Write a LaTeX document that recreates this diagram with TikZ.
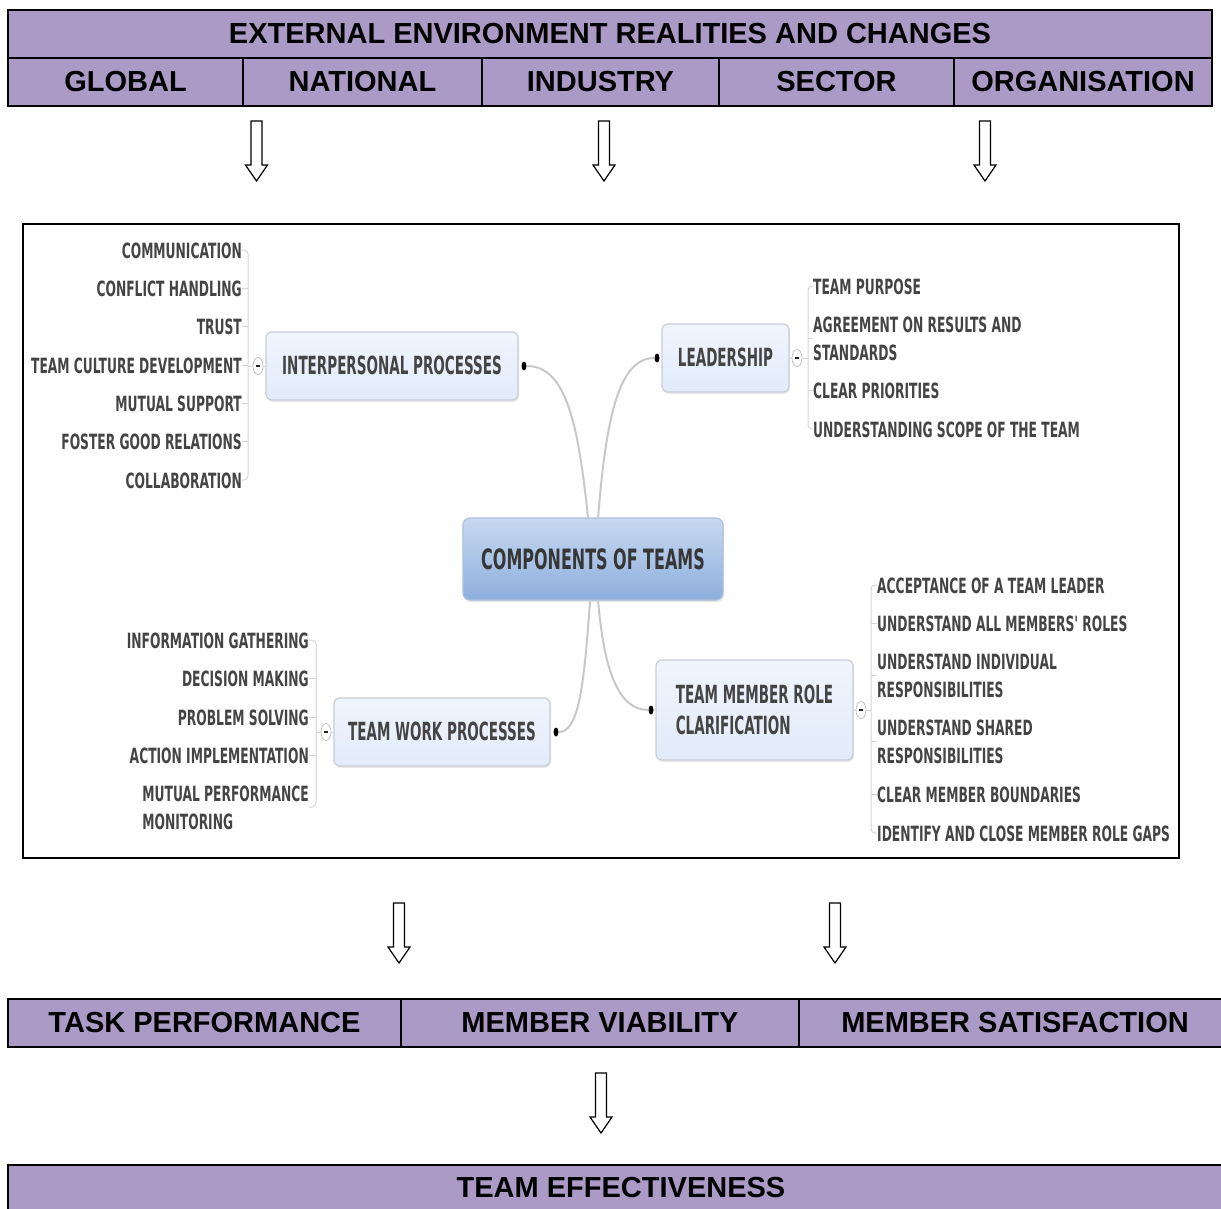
\documentclass[tikz,border=0pt]{standalone}
\usepackage{fontspec}
\setmainfont{Liberation Sans}
\newfontfamily\mmfont{DejaVu Sans}
\usetikzlibrary{shadows,shapes.geometric}

\definecolor{lav}{RGB}{171,153,198}
\definecolor{mmtext}{RGB}{68,68,68}
\definecolor{boxtop}{RGB}{240,245,253}
\definecolor{boxbot}{RGB}{226,235,250}
\definecolor{boxline}{RGB}{200,205,214}
\definecolor{ctop}{RGB}{200,217,240}
\definecolor{cbot}{RGB}{141,174,220}
\definecolor{cline}{RGB}{170,192,224}
\definecolor{connc}{RGB}{200,200,200}
\definecolor{brkc}{RGB}{212,212,212}

% text helpers for the mind map (condensed bold)
\newcommand\leaftxt[1]{{\mmfont\bfseries\fontsize{21}{28}\selectfont\raisebox{-2.5pt}[\height][\depth]{\scalebox{0.585}[1]{\begin{tabular}{@{}l@{}}#1\end{tabular}}}}}
\newcommand\boxtxt[1]{{\mmfont\bfseries\fontsize{25}{31}\selectfont\raisebox{-2.5pt}[\height][\depth]{\scalebox{0.54}[1]{\begin{tabular}{@{}l@{}}#1\end{tabular}}}}}
\newcommand\centtxt[1]{{\mmfont\bfseries\fontsize{28}{34}\selectfont\scalebox{0.57}[1]{#1}}}
\newcommand\tabtxt[1]{{\bfseries\fontsize{29}{34}\selectfont #1}}
\newcommand\minusbar{{\color{black!85}\rule{4.5pt}{1.8pt}}}

\tikzset{
  harrow/.pic={\draw[line width=1.2pt, fill=white, line join=miter]
     (-5.5,0) -- (5.5,0) -- (5.5,44) -- (11,44) -- (0,60) -- (-11,44) -- (-5.5,44) -- cycle;},
  celltext/.style={inner sep=0pt, text=black},
  mainbox/.style={rounded corners=6pt, draw=boxline, line width=1.2pt,
     top color=boxtop, bottom color=boxbot, text=mmtext, inner sep=0pt,
     drop shadow={opacity=0.18, shadow xshift=1pt, shadow yshift=-2pt}},
  centbox/.style={rounded corners=7pt, draw=cline, line width=1.2pt,
     top color=ctop, bottom color=cbot, text=mmtext!80!black, inner sep=0pt,
     drop shadow={opacity=0.2, shadow xshift=1pt, shadow yshift=-2pt}},
  leafL/.style={anchor=east, inner sep=0pt, text=mmtext},
  leafR/.style={anchor=west, inner sep=0pt, text=mmtext},
  dotn/.style={ellipse, fill=black, inner sep=0pt, minimum width=5pt, minimum height=9pt},
  togn/.style={ellipse, draw=gray!55, fill=white, line width=0.7pt, inner sep=0pt,
     minimum width=10pt, minimum height=17pt},
  conn/.style={draw=connc, line width=2pt},
  brk/.style={draw=brkc, line width=1pt, rounded corners=4pt},
}

\begin{document}
\begin{tikzpicture}[x=1pt, y=-1pt]
\useasboundingbox (0,0) rectangle (1221,1209);

% ---------- external environment table ----------
\fill[lav] (8,10) rectangle (1212,106);
\draw[line width=1.8pt] (8,58) -- (1212,58);
\foreach \xx in {243,482,719,954} \draw[line width=1.5pt] (\xx,58) -- (\xx,106);
\draw[line width=2.6pt] (8,10) rectangle (1212,106);
\node[celltext] (ext) at (610,34) {\tabtxt{EXTERNAL ENVIRONMENT REALITIES AND CHANGES}};
\node[celltext] (glob) at (125.5,82) {\tabtxt{GLOBAL}};
\node[celltext] (nat) at (362.5,82) {\tabtxt{NATIONAL}};
\node[celltext] (ind) at (600.5,82) {\tabtxt{INDUSTRY}};
\node[celltext] (sec) at (836.5,82) {\tabtxt{SECTOR}};
\node[celltext] (org) at (1083,82) {\tabtxt{ORGANISATION}};

\pic at (256.5,121) {harrow};
\pic at (604,121) {harrow};
\pic at (985,121) {harrow};

% ---------- mind map frame ----------
\draw[line width=2pt] (23,224) rectangle (1179,858);

% central topic
\node[centbox, minimum width=260pt, minimum height=82pt] (core) at (593,559) {\centtxt{COMPONENTS OF TEAMS}};
\coordinate (cIP) at (588,518);
\coordinate (cLD) at (598,518);
\coordinate (cTW) at (590,600);
\coordinate (cTM) at (598,600);

% main topics
\node[mainbox, minimum width=252pt, minimum height=68pt] (ip) at (392,366) {\boxtxt{INTERPERSONAL PROCESSES}};
\node[mainbox, minimum width=127pt, minimum height=68pt] (ld) at (725.5,358) {\boxtxt{LEADERSHIP}};
\node[mainbox, minimum width=216pt, minimum height=68pt] (tw) at (442,732) {\boxtxt{TEAM WORK PROCESSES}};
\node[mainbox, minimum width=197pt, minimum height=100pt] (tm) at (754.5,710) {\boxtxt{TEAM MEMBER ROLE\\CLARIFICATION}};

% connection dots
\node[dotn] (dIP) at (524,366) {};
\node[dotn] (dLD) at (657,358) {};
\node[dotn] (dTW) at (556,732) {};
\node[dotn] (dTM) at (651,710) {};

% curved branches
\draw[conn] (cIP) .. controls (578,420) and (565,366) .. (dIP);
\draw[conn] (cLD) .. controls (606,420) and (618,358) .. (dLD);
\draw[conn] (cTW) .. controls (584,690) and (578,732) .. (dTW);
\draw[conn] (cTM) .. controls (604,670) and (618,710) .. (dTM);

% collapse toggles
\node[togn] (tIP) at (258,366) {\minusbar};
\node[togn] (tLD) at (797,358) {\minusbar};
\node[togn] (tTW) at (326,732) {\minusbar};
\node[togn] (tTM) at (861,710) {\minusbar};
\draw[brkc, line width=1pt] (tIP) -- (ip);
\draw[brkc, line width=1pt] (tLD) -- (ld);
\draw[brkc, line width=1pt] (tTW) -- (tw);
\draw[brkc, line width=1pt] (tTM) -- (tm);

% interpersonal processes subtopics
\node[leafL] (ip1) at (242,250) {\leaftxt{COMMUNICATION}};
\node[leafL] (ip2) at (242,288) {\leaftxt{CONFLICT HANDLING}};
\node[leafL] (ip3) at (242,326) {\leaftxt{TRUST}};
\node[leafL] (ip4) at (242,365) {\leaftxt{TEAM CULTURE DEVELOPMENT}};
\node[leafL] (ip5) at (242,403) {\leaftxt{MUTUAL SUPPORT}};
\node[leafL] (ip6) at (242,441) {\leaftxt{FOSTER GOOD RELATIONS}};
\node[leafL] (ip7) at (242,480) {\leaftxt{COLLABORATION}};
\draw[brk] (ip1.east) -| (248,480) -- (ip7.east);
\foreach \n in {ip2,ip3,ip4,ip5,ip6} \draw[brkc, line width=1pt] (\n.east) -- +(6,0);
\draw[brkc, line width=1pt] (248,366) -- (tIP);

% leadership subtopics
\node[leafR] (ld1) at (813,286) {\leaftxt{TEAM PURPOSE}};
\node[leafR] (ld2) at (813,338) {\leaftxt{AGREEMENT ON RESULTS AND\\STANDARDS}};
\node[leafR] (ld3) at (813,390) {\leaftxt{CLEAR PRIORITIES}};
\node[leafR] (ld4) at (813,429) {\leaftxt{UNDERSTANDING SCOPE OF THE TEAM}};
\draw[brk] (ld1.west) -| (808,429) -- (ld4.west);
\foreach \n in {ld2,ld3} \draw[brkc, line width=1pt] (\n.west) -- +(-5,0);
\draw[brkc, line width=1pt] (tLD) -- (808,358);

% team work processes subtopics
\node[leafL] (tw1) at (309,640) {\leaftxt{INFORMATION GATHERING}};
\node[leafL] (tw2) at (309,678) {\leaftxt{DECISION MAKING}};
\node[leafL] (tw3) at (309,717) {\leaftxt{PROBLEM SOLVING}};
\node[leafL] (tw4) at (309,755) {\leaftxt{ACTION IMPLEMENTATION}};
\node[leafL] (tw5) at (309,807) {\leaftxt{MUTUAL PERFORMANCE\\MONITORING}};
\draw[brk] (tw1.east) -| (316,807) -- (tw5.east);
\foreach \n in {tw2,tw3,tw4} \draw[brkc, line width=1pt] (\n.east) -- +(7,0);
\draw[brkc, line width=1pt] (316,732) -- (tTW);

% team member role clarification subtopics
\node[leafR] (tm1) at (877,585) {\leaftxt{ACCEPTANCE OF A TEAM LEADER}};
\node[leafR] (tm2) at (877,623) {\leaftxt{UNDERSTAND ALL MEMBERS' ROLES}};
\node[leafR] (tm3) at (877,675) {\leaftxt{UNDERSTAND INDIVIDUAL\\RESPONSIBILITIES}};
\node[leafR] (tm4) at (877,741) {\leaftxt{UNDERSTAND SHARED\\RESPONSIBILITIES}};
\node[leafR] (tm5) at (877,794) {\leaftxt{CLEAR MEMBER BOUNDARIES}};
\node[leafR] (tm6) at (877,833) {\leaftxt{IDENTIFY AND CLOSE MEMBER ROLE GAPS}};
\draw[brk] (tm1.west) -| (871,833) -- (tm6.west);
\foreach \n in {tm2,tm3,tm4,tm5} \draw[brkc, line width=1pt] (\n.west) -- +(-6,0);
\draw[brkc, line width=1pt] (tTM) -- (871,710);

\pic at (399,903) {harrow};
\pic at (835,903) {harrow};

% ---------- outcomes table ----------
\fill[lav] (8,999) rectangle (1240,1047);
\foreach \xx in {401,799} \draw[line width=1.5pt] (\xx,999) -- (\xx,1047);
\draw[line width=2.6pt] (1240,999) -- (8,999) -- (8,1047) -- (1240,1047);
\node[celltext] (tp) at (204.5,1023) {\tabtxt{TASK PERFORMANCE}};
\node[celltext] (mv) at (600,1023) {\tabtxt{MEMBER VIABILITY}};
\node[celltext] (ms) at (1015,1023) {\tabtxt{MEMBER SATISFACTION}};

\pic at (601,1073) {harrow};

% ---------- final result ----------
\fill[lav] (8,1165) rectangle (1240,1215);
\draw[line width=2.6pt] (1240,1165) -- (8,1165) -- (8,1215);
\node[celltext] (te) at (621,1188) {\tabtxt{TEAM EFFECTIVENESS}};
\end{tikzpicture}
\end{document}
